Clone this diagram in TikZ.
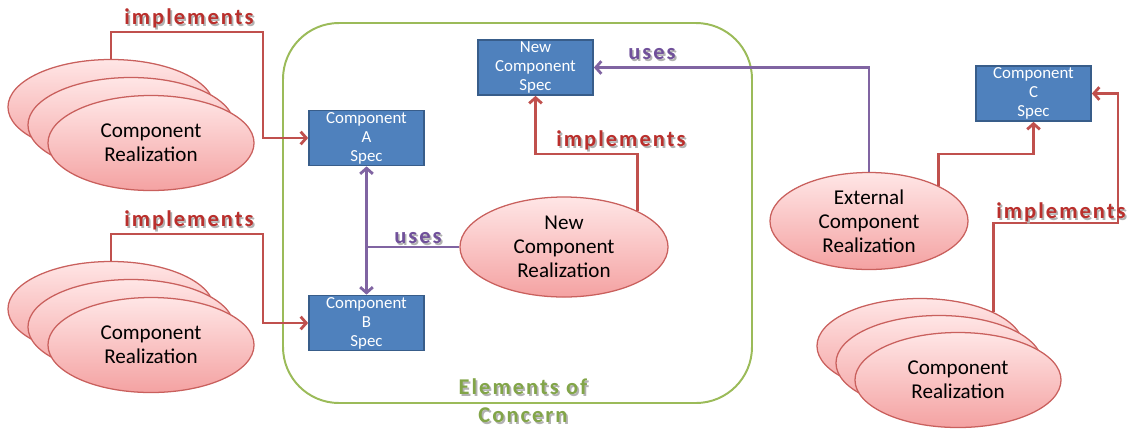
\documentclass[tikz,border=0pt]{standalone}
\usepackage{fontspec}
\setmainfont{Carlito}
\usetikzlibrary{shapes.geometric,arrows.meta}

\definecolor{specblue}{HTML}{4F81BD}
\definecolor{specedge}{HTML}{385D8A}
\definecolor{implred}{HTML}{C0504D}
\definecolor{impltext}{HTML}{BA2F2C}
\definecolor{usespurple}{HTML}{8064A2}
\definecolor{usestext}{HTML}{70509A}
\definecolor{concerngreen}{HTML}{9BBB59}
\definecolor{concerntext}{HTML}{82A548}
\definecolor{rlztop}{HTML}{FFE6E6}
\definecolor{rlzbottom}{HTML}{F4A2A2}
\definecolor{rlzedge}{HTML}{C9605D}

\newcommand{\shadowed}[1]{\rlap{\kern1.2pt\raisebox{-1.4pt}{\color{black!30}#1}}#1}
\newcommand{\labelfont}{\fontsize{16}{20}\selectfont\bfseries\addfontfeature{LetterSpace=9}}

\tikzset{
	spec/.style={draw=specedge, line width=1.2pt, fill=specblue, text=white, minimum width=2.875cm, minimum height=1.375cm, inner sep=0pt, align=center, font=\fontsize{12}{13.5}\selectfont},
	rlz/.style={ellipse, draw=rlzedge, line width=0.9pt, top color=rlztop, bottom color=rlzbottom, minimum width=5.15cm, minimum height=2.375cm, inner sep=0pt, align=center, font=\fontsize{15}{17}\selectfont},
	tip/.style={-{Straight Barb[length=4pt,width=9pt]}},
	impl/.style={draw=implred, line width=2pt, tip},
	useline/.style={draw=usespurple, line width=2pt},
	impllabel/.style={text=impltext, font=\labelfont, inner sep=0pt},
	uselabel/.style={text=usestext, font=\labelfont, inner sep=0pt},
}

\begin{document}
\begin{tikzpicture}[x=0.025cm, y=-0.025cm]
	\useasboundingbox (0,0) rectangle (1130,430);
	
	\draw[concerngreen, line width=1.4pt, rounded corners=1.4cm] (283,23) rectangle (752,403);
	
	\node[rlz] (rlzA3) at (111,107) {};
	\node[rlz] (rlzA2) at (131,125) {};
	\node[rlz] (rlzA1) at (151,143) {Component\\Realization};
	
	\node[rlz] (rlzB3) at (111,309) {};
	\node[rlz] (rlzB2) at (131,327) {};
	\node[rlz] (rlzB1) at (151,345) {Component\\Realization};
	
	\node[rlz] (rlzC3) at (920,346) {};
	\node[rlz] (rlzC2) at (939,363) {};
	\node[rlz] (rlzC1) at (958,380) {Component\\Realization};
	
	\node[rlz, minimum width=5.2cm, minimum height=2.5cm] (ncr) at (564,247) {New\\Component\\Realization};
	\node[rlz, minimum width=4.95cm, minimum height=2.425cm] (ecr) at (869,221) {External\\Component\\Realization};
	
	\node[spec] (specA) at (366.5,138) {Component\\A\\Spec};
	\node[spec] (specB) at (366.5,323) {Component\\B\\Spec};
	\node[spec] (specN) at (535.5,67.5) {New\\Component\\Spec};
	\node[spec] (specC) at (1033.5,93.5) {Component\\C\\Spec};
	
	\coordinate (bendA) at (263,32);
	\coordinate (bendB) at (263,234);
	\coordinate (bendN) at (637,154);
	\coordinate (bendC) at (938,154);
	\coordinate (bendR) at (1118,223);
	
	\draw[impl] (rlzA3.north) |- (bendA) |- (specA.west);
	\draw[impl] (rlzB3.north) |- (bendB) |- (specB.west);
	\draw[impl] (ncr.26) -- (ncr.26 |- bendN) -| (specN.south);
	\draw[impl] (ecr.27) -- (ecr.27 |- bendC) -| (specC.south);
	\draw[impl] (rlzC3.25) |- (bendR) |- (specC.east);
	
	\draw[useline, {Straight Barb[length=4pt,width=9pt]}-{Straight Barb[length=4pt,width=9pt]}] (specA.south) -- (specB.north);
	\draw[useline] (ncr.west) -- (ncr.west -| specA.south);
	\draw[useline, tip] (ecr.north) |- (specN.east);
	
	\node[impllabel] (implA) at (189,19) {\shadowed{implements}};
	\node[impllabel] (implB) at (189,221) {\shadowed{implements}};
	\node[impllabel] (implN) at (621,141.5) {\shadowed{implements}};
	\node[impllabel] (implC) at (1061,213) {\shadowed{implements}};
	
	\node[uselabel] (usesB) at (418,239.5) {\shadowed{uses}};
	\node[uselabel] (usesN) at (652,55) {\shadowed{uses}};
	
	\node[text=concerntext, font=\labelfont, align=center, inner sep=0pt] (concern) at (523,402) {\shadowed{Elements of}\\\shadowed{Concern}};
\end{tikzpicture}
\end{document}
